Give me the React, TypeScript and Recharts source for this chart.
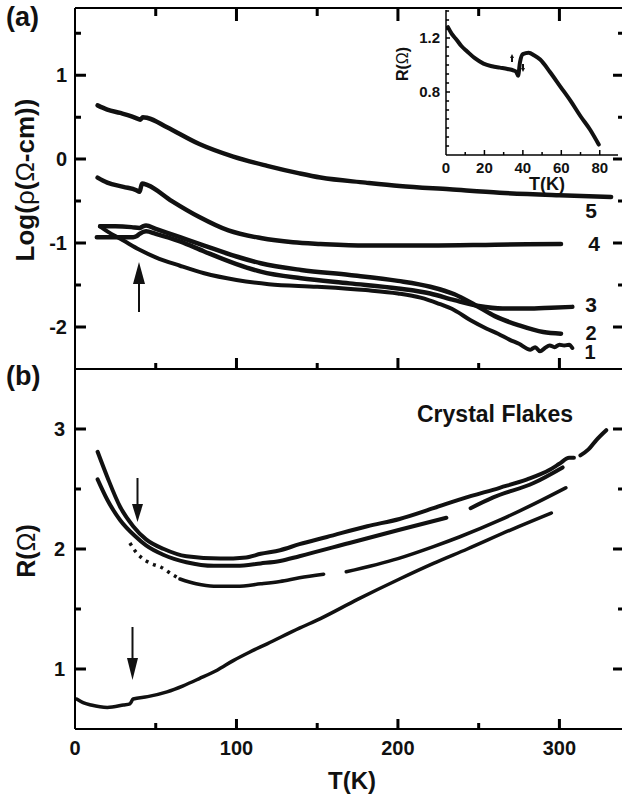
import React from 'react';
import { LineChart, Line, XAxis, YAxis } from 'recharts';

const FONT = '"Liberation Sans", Arial, Helvetica, sans-serif';
const INK = '#111';

// ---- panel (a): Log(rho) vs T for samples 1..5
const a5T = [14, 20, 28, 35, 39, 40.5, 42, 45, 57, 77, 98, 119, 139, 152, 180, 201, 232, 263, 300, 332];
const a5V = [0.64, 0.59, 0.55, 0.51, 0.48, 0.47, 0.5, 0.49, 0.38, 0.18, 0.03, -0.08, -0.17, -0.22, -0.28, -0.32, -0.36, -0.4, -0.43, -0.45];

const a4T = [14, 20, 30, 38, 40, 41.5, 45, 60, 77, 95, 115, 135, 152, 180, 220, 260, 301];
const a4V = [-0.22, -0.28, -0.33, -0.37, -0.39, -0.29, -0.31, -0.5, -0.69, -0.85, -0.94, -0.99, -1.01, -1.03, -1.03, -1.02, -1.01];

const a3T = [13.5, 25, 36, 38, 40, 44, 50, 65, 80, 100, 115, 140, 170, 200, 220, 235, 250, 265, 280, 295, 308];
const a3V = [-0.93, -0.93, -0.93, -0.92, -0.89, -0.86, -0.89, -0.98, -1.1, -1.25, -1.34, -1.42, -1.48, -1.54, -1.6, -1.68, -1.75, -1.78, -1.78, -1.77, -1.76];

const a2T = [15.5, 25, 35, 40, 42, 44, 50, 65, 80, 100, 115, 140, 170, 200, 220, 235, 248, 260, 275, 290, 301];
const a2V = [-0.8, -0.8, -0.81, -0.82, -0.8, -0.79, -0.83, -0.93, -1.03, -1.16, -1.24, -1.32, -1.38, -1.45, -1.52, -1.61, -1.74, -1.87, -1.98, -2.06, -2.08];

const a1T = [15.5, 20, 30, 40, 50, 65, 80, 100, 120, 150, 180, 200, 214, 225, 235, 245, 255, 262, 269, 275, 282, 285, 288, 291, 294, 297, 300, 303, 306, 308];
const a1V = [-0.8, -0.86, -0.97, -1.08, -1.17, -1.27, -1.36, -1.44, -1.49, -1.52, -1.56, -1.6, -1.65, -1.72, -1.8, -1.92, -2.02, -2.08, -2.15, -2.2, -2.27, -2.24, -2.29, -2.25, -2.22, -2.24, -2.21, -2.22, -2.21, -2.25];

// ---- panel (b): crystal flakes, R vs T (null = gap in the data)
const b1T = [14, 20, 28, 36, 44, 55, 69, 90, 106, 115, 127, 139, 156, 181, 201, 222, 240, 263, 280, 294, 300, 306, 309, 311, 313, 318, 323, 329];
const b1V = [2.81, 2.6, 2.35, 2.19, 2.08, 2.0, 1.94, 1.92, 1.93, 1.96, 1.99, 2.04, 2.1, 2.19, 2.25, 2.34, 2.42, 2.51, 2.58, 2.66, 2.71, 2.76, 2.76, null, 2.78, 2.83, 2.91, 2.99];

const b2T = [14, 20, 28, 37, 44, 55, 69, 86, 100, 115, 127, 139, 170, 201, 230, 237, 245, 259, 284, 302];
const b2V = [2.58, 2.41, 2.24, 2.11, 2.03, 1.95, 1.89, 1.86, 1.86, 1.88, 1.9, 1.94, 2.05, 2.16, 2.26, null, 2.34, 2.43, 2.55, 2.68];

const b3SparseT = [34, 38, 41, 47, 53, 60, 65];
const b3SparseV = [2.05, 1.97, 1.93, 1.88, 1.85, 1.79, 1.75];
const b3T = [65, 75, 86, 100, 115, 127, 139, 154, 161, 168, 200, 222, 238, 263, 285, 304];
const b3V = [1.75, 1.71, 1.69, 1.69, 1.71, 1.73, 1.76, 1.79, null, 1.81, 1.92, 2.02, 2.1, 2.24, 2.38, 2.51];

const b4T = [1, 5, 10, 20, 30, 34, 36, 45, 57, 67, 77, 88, 98, 108, 119, 139, 152, 175, 201, 222, 243, 270, 295];
const b4V = [0.75, 0.72, 0.7, 0.68, 0.7, 0.71, 0.75, 0.77, 0.81, 0.86, 0.92, 0.99, 1.07, 1.14, 1.21, 1.34, 1.42, 1.58, 1.75, 1.88, 2.0, 2.16, 2.3];

// ---- inset: R vs T below 80 K
const inT = [1, 3, 5.6, 8, 11, 15, 19.5, 24, 28, 32, 35, 36.5, 37.5, 38.5, 40, 43, 46, 49, 54, 59.5, 65, 70, 75, 79.5];
const inV = [1.28, 1.23, 1.185, 1.14, 1.1, 1.05, 1.01, 0.99, 0.98, 0.97, 0.96, 0.95, 0.92, 1.02, 1.08, 1.09, 1.07, 1.04, 0.95, 0.84, 0.73, 0.62, 0.52, 0.41];

// ---- ticks (major = labelled / long)
const xTicks = [50, 100, 150, 200, 250, 300];
const xMajor = [0, 100, 200, 300];
const aTicks = [-2, -1.5, -1, -0.5, 0, 0.5, 1, 1.5];
const aMajor = [-2, -1, 0, 1];
const bTicks = [1, 1.5, 2, 2.5, 3];
const bMajor = [1, 2, 3];
const inXTicks = [10, 20, 30, 40, 50, 60, 70, 80];
const inXMajor = [0, 20, 40, 60, 80];
const inYTicks = [0.4, 0.467, 0.533, 0.6, 0.667, 0.733, 0.8, 0.867, 0.933, 1.0, 1.067, 1.133, 1.2, 1.267, 1.333, 1.4];
const inYMajor = [0.8, 1.2];

const xDom: [number, number] = [0, 340];
const aDom: [number, number] = [-2.5, 1.8];
const bDom: [number, number] = [0.5, 3.5];
const inXDom: [number, number] = [0, 89.5];
const inYDom: [number, number] = [0.333, 1.407];

type Pt = { t: number; v: number | null };
const zip = (t: number[], v: (number | null)[]): Pt[] => t.map((x, i) => ({ t: x, v: v[i] }));
const isMajor = (list: number[], v: number) => list.some((m) => Math.abs(m - v) < 1e-6);

// inward tick marks drawn as short segments in data units, separated by nulls
const vTicks = (at: number[], major: number[], from: number, dMajor: number, dMinor: number): Pt[] =>
  at.flatMap((t) => {
    const d = isMajor(major, t) ? dMajor : dMinor;
    return [{ t, v: from }, { t, v: from + d }, { t, v: null }];
  });
const hTicks = (at: number[], major: number[], from: number, dMajor: number, dMinor: number): Pt[] =>
  at.flatMap((v) => {
    const d = isMajor(major, v) ? dMajor : dMinor;
    return [{ t: from, v }, { t: from + d, v }, { t: from + d, v: null }];
  });

const frame = { stroke: '#000', strokeWidth: 2 };
const thin = { stroke: '#000', strokeWidth: 1.5 };
const blank = () => '';
const font = (size: number) => ({ fontFamily: FONT, fontWeight: 700, fontSize: size, fill: INK });
const num = { type: 'number' as const, allowDataOverflow: true, interval: 0 as const, tickLine: false };

const curve = (key: string, data: Pt[], width: number, extra: any = {}) => (
  <Line
    key={key}
    data={data}
    dataKey="v"
    type="monotone"
    stroke={INK}
    strokeWidth={width}
    strokeLinejoin="round"
    strokeLinecap="round"
    dot={false}
    activeDot={false}
    isAnimationActive={false}
    connectNulls={false}
    {...extra}
  />
);

const marks = (key: string, data: Pt[], width = 3) => (
  <Line
    key={key}
    data={data}
    dataKey="v"
    type="linear"
    stroke="#000"
    strokeWidth={width}
    dot={false}
    activeDot={false}
    isAnimationActive={false}
    connectNulls={false}
  />
);

const PanelA = () => (
  <LineChart width={630} height={370} margin={{ top: 7, right: 6, bottom: 0, left: 0 }}>
    <XAxis dataKey="t" domain={xDom} ticks={xMajor} height={1} axisLine={frame} tickFormatter={blank} {...num} />
    <XAxis xAxisId="top" orientation="top" dataKey="t" domain={xDom} ticks={xMajor} height={1} axisLine={frame}
      tickFormatter={blank} {...num} />
    <YAxis domain={aDom} ticks={aMajor} width={75} axisLine={frame} tickSize={-11} tickMargin={19}
      tick={font(20)} {...num} />
    {curve('a5', zip(a5T, a5V), 4.5)}
    {curve('a4', zip(a4T, a4V), 4.5)}
    {curve('a3', zip(a3T, a3V), 4.5)}
    {curve('a2', zip(a2T, a2V), 4.5)}
    {curve('a1', zip(a1T, a1V), 4)}
    {marks('tt', vTicks(xTicks, xMajor, 1.8, -0.155, -0.095))}
    {marks('tb', vTicks(xTicks, xMajor, -2.5, 0.131, 0.071))}
    {marks('tl', hTicks(aTicks, aMajor, 0, 6.8, 3.7))}
    {marks('tr', hTicks(aTicks, aMajor, 340, -6.8, -3.7))}
  </LineChart>
);

const PanelB = () => (
  <LineChart width={630} height={439} margin={{ top: 9, right: 6, bottom: 0, left: 0 }}>
    <XAxis dataKey="t" domain={xDom} ticks={xMajor} height={70} axisLine={frame} tickSize={-10}
      tickMargin={22} tick={font(20)} {...num} />
    <YAxis domain={bDom} ticks={bMajor} width={75} axisLine={frame} tickSize={-11} tickMargin={21}
      tick={font(20)} {...num} />
    {curve('b1', zip(b1T, b1V), 4)}
    {curve('b2', zip(b2T, b2V), 4)}
    {curve('b3s', zip(b3SparseT, b3SparseV), 3.5, { strokeDasharray: '3 5', strokeLinecap: 'butt' })}
    {curve('b3', zip(b3T, b3V), 3.5)}
    {curve('b4', zip(b4T, b4V), 3.5)}
    {marks('tb', vTicks(xTicks, xMajor, 0.5, 0.083, 0.05))}
    {marks('tl', hTicks(bTicks, bMajor, 0, 6.8, 3.7))}
    {marks('tr', hTicks(bTicks, bMajor, 340, -6.8, -3.7))}
  </LineChart>
);

const Inset = () => (
  <LineChart width={224} height={187} margin={{ top: 2, right: 2, bottom: 0, left: 0 }}>
    <XAxis dataKey="t" domain={inXDom} ticks={inXMajor} height={40} axisLine={thin} tickSize={-5}
      tickMargin={12} tick={font(15)} {...num} />
    <YAxis domain={inYDom} ticks={inYMajor} width={50} axisLine={thin} tickSize={-4} tickMargin={10}
      tick={font(15)} {...num} />
    {curve('in', zip(inT, inV), 4)}
    {marks('tb', vTicks(inXTicks, inXMajor, 0.333, 0.037, 0.022), 1.5)}
    {marks('tl', hTicks(inYTicks, inYMajor, 0, 2.1, 1.6), 1.5)}
  </LineChart>
);

// text placed by baseline (x, y); rot = rotated -90deg around (x, y)
const Txt = (p: { x: number; y: number; size: number; start?: boolean; rot?: boolean; children: React.ReactNode }) => (
  <div
    style={{
      position: 'absolute',
      left: p.x,
      top: p.rot ? p.y : p.y - 0.85 * p.size,
      fontFamily: FONT,
      fontWeight: 700,
      fontSize: p.size,
      lineHeight: 1,
      whiteSpace: 'nowrap',
      color: INK,
      transform: p.rot ? 'translate(-50%, -50%) rotate(-90deg)' : p.start ? undefined : 'translateX(-50%)',
    }}
  >
    {p.children}
  </div>
);

const Arrow = ({ x, tail, tip, head = 22, w = 12 }: { x: number; tail: number; tip: number; head?: number; w?: number }) => {
  const top = Math.min(tail, tip);
  const h = Math.abs(tip - tail);
  const down = tip > tail;
  const cx = w / 2 + 1;
  const tY = down ? h : 0;
  const bY = down ? h - head : head;
  return (
    <svg width={w + 2} height={h} style={{ position: 'absolute', left: x - cx, top }}>
      <line x1={cx} y1={down ? 0 : h} x2={cx} y2={bY} stroke={INK} strokeWidth={2} />
      <polygon points={`${cx - w / 2},${bY} ${cx + w / 2},${bY} ${cx},${tY}`} fill={INK} />
    </svg>
  );
};

const greek = { fontWeight: 400 };

export default function App() {
  return (
    <div style={{ position: 'absolute', left: 0, top: 0, width: 622, height: 799, overflow: 'hidden', background: '#fff' }}>
      <div style={{ position: 'absolute', left: 0, top: 0 }}>
        <PanelA />
      </div>
      <div style={{ position: 'absolute', left: 0, top: 360 }}>
        <PanelB />
      </div>
      <div style={{ position: 'absolute', left: 396, top: 8 }}>
        <Inset />
      </div>
      <Txt x={6} y={27} size={27} start>(a)</Txt>
      <Txt x={6} y={386} size={27} start>(b)</Txt>
      <Txt x={25} y={180} size={26} rot>
        Log(<span style={greek}>ρ</span>(<span style={greek}>Ω</span>-cm))
      </Txt>
      <Txt x={26} y={551} size={25} rot>
        R(<span style={greek}>Ω</span>)
      </Txt>
      <Txt x={352} y={789} size={24}>T(K)</Txt>
      <Txt x={495} y={423} size={23}>Crystal Flakes</Txt>
      <Txt x={591} y={218} size={21}>5</Txt>
      <Txt x={594} y={251} size={21}>4</Txt>
      <Txt x={591} y={312} size={21}>3</Txt>
      <Txt x={591} y={340} size={20}>2</Txt>
      <Txt x={590} y={359} size={20}>1</Txt>
      <Txt x={547} y={190} size={18}>T(K)</Txt>
      <Txt x={403} y={64} size={16} rot>
        R(<span style={greek}>Ω</span>)
      </Txt>
      <Arrow x={139} tail={312} tip={262} />
      <Arrow x={137} tail={478} tip={522} head={18} w={11} />
      <Arrow x={132} tail={627} tip={680} head={22} w={11} />
      <Arrow x={512} tail={62} tip={54} head={4} w={4} />
      <Arrow x={523} tail={64} tip={72} head={4} w={4} />
    </div>
  );
}
